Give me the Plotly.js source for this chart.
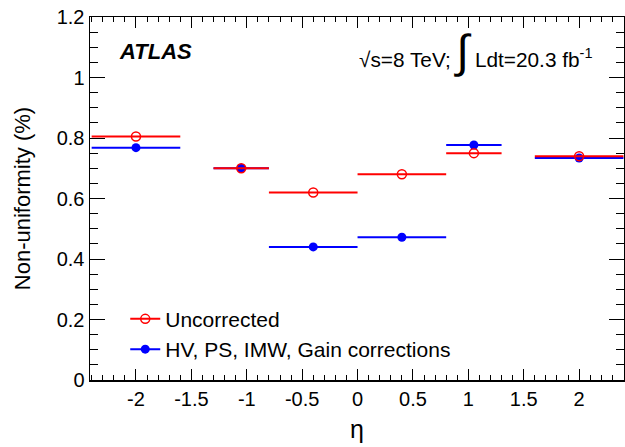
<!DOCTYPE html>
<html>
<head>
<meta charset="utf-8">
<script src="https://cdn.plot.ly/plotly-3.0.1.min.js"></script>
<style>html,body{margin:0;padding:0;background:#fff;}#chart{width:625px;height:447px;}</style>
</head>
<body>
<div id="chart"></div>
<script>
// Bin definitions (eta)
const binLow  = [-2.4, -1.3, -0.8, 0.0, 0.8, 1.6];
const binHigh = [-1.6, -0.8,  0.0, 0.8, 1.3, 2.4];
const binCenter = [-2.0, -1.05, -0.4, 0.4, 1.05, 2.0];
// Non-uniformity (%)
const uncorrected = [0.805, 0.700, 0.620, 0.680, 0.750, 0.740];
const corrected   = [0.768, 0.700, 0.440, 0.472, 0.777, 0.734];
const seriesNames = ["Uncorrected", "HV, PS, IMW, Gain corrections"];
const xTickVals = [-2, -1.5, -1, -0.5, 0, 0.5, 1, 1.5, 2];
const xTickText = ["-2", "-1.5", "-1", "-0.5", "0", "0.5", "1", "1.5", "2"];

const errPlus  = binCenter.map((c, i) => binHigh[i] - c);
const errMinus = binCenter.map((c, i) => c - binLow[i]);

const FONT = "Liberation Sans, Arial, Helvetica, sans-serif";

const traces = [
  {
    x: binCenter, y: corrected, type: "scatter", mode: "markers", showlegend: false,
    marker: {symbol: "circle", size: 9, color: "#0000ff"},
    error_x: {type: "data", symmetric: false, array: errPlus, arrayminus: errMinus,
              color: "#0000ff", thickness: 2, width: 0}
  },
  {
    x: binCenter, y: uncorrected, type: "scatter", mode: "markers", showlegend: false,
    marker: {symbol: "circle-open", size: 9, color: "#ff0000", line: {width: 1.5, color: "#ff0000"}},
    error_x: {type: "data", symmetric: false, array: errPlus, arrayminus: errMinus,
              color: "#ff0000", thickness: 2, width: 0}
  },
  {
    x: [null], y: [null], type: "scatter", mode: "lines+markers", name: seriesNames[0],
    line: {color: "#ff0000", width: 2},
    marker: {symbol: "circle-open", size: 9, color: "#ff0000", line: {width: 1.5, color: "#ff0000"}}
  },
  {
    x: [null], y: [null], type: "scatter", mode: "lines+markers", name: seriesNames[1],
    line: {color: "#0000ff", width: 2},
    marker: {symbol: "circle", size: 9, color: "#0000ff"}
  }
];

const layout = {
  width: 625, height: 447,
  margin: {l: 90, r: 1, t: 17, b: 67},
  paper_bgcolor: "#fff", plot_bgcolor: "#fff",
  font: {family: FONT, size: 20, color: "#000"},
  showlegend: true,
  legend: {
    x: 0.066, y: 0.224, xanchor: "left", yanchor: "top",
    bgcolor: "rgba(0,0,0,0)", font: {size: 21, family: FONT},
    tracegroupgap: 0, itemwidth: 30
  },
  xaxis: {
    range: [-2.415, 2.405], showgrid: false, zeroline: false,
    showline: true, linecolor: "#000", linewidth: 1.5, mirror: "ticks",
    ticks: "inside", ticklen: 11, tickwidth: 1, tickcolor: "#000",
    tickmode: "array", tickvals: xTickVals, ticktext: xTickText,
    tickfont: {size: 20, family: FONT},
    minor: {ticks: "inside", ticklen: 5, tickwidth: 1, tickcolor: "#000", dtick: 0.1, tick0: 0, showgrid: false},
    title: {text: "η", font: {size: 25, family: FONT}, standoff: 12}
  },
  yaxis: {
    range: [0, 1.2], showgrid: false, zeroline: false,
    showline: true, linecolor: "#000", linewidth: 1.5, mirror: "ticks",
    ticks: "inside", ticklen: 15, tickwidth: 1, tickcolor: "#000",
    dtick: 0.2, tick0: 0,
    tickfont: {size: 20, family: FONT},
    minor: {ticks: "inside", ticklen: 8, tickwidth: 1, tickcolor: "#000", dtick: 0.05, tick0: 0, showgrid: false},
    title: {text: "Non-uniformity (%)", font: {size: 22, family: FONT}, standoff: 20}
  },
  annotations: [
    {
      xref: "paper", yref: "paper", x: 0.05, y: 0.905, xanchor: "left", yanchor: "middle",
      text: "<b><i>ATLAS</i></b>", showarrow: false, font: {size: 22, family: FONT}
    },
    {
      xref: "paper", yref: "paper", x: 0.5, y: 0.905, xanchor: "left", yanchor: "middle",
      text: "√s=8 TeV; <span style='font-size:46px'>∫</span> Ldt=20.3 fb<sup>-1</sup>",
      showarrow: false, font: {size: 20.8, family: FONT}
    }
  ]
};

Plotly.newPlot("chart", traces, layout, {displayModeBar: false, staticPlot: true});
</script>
</body>
</html>
